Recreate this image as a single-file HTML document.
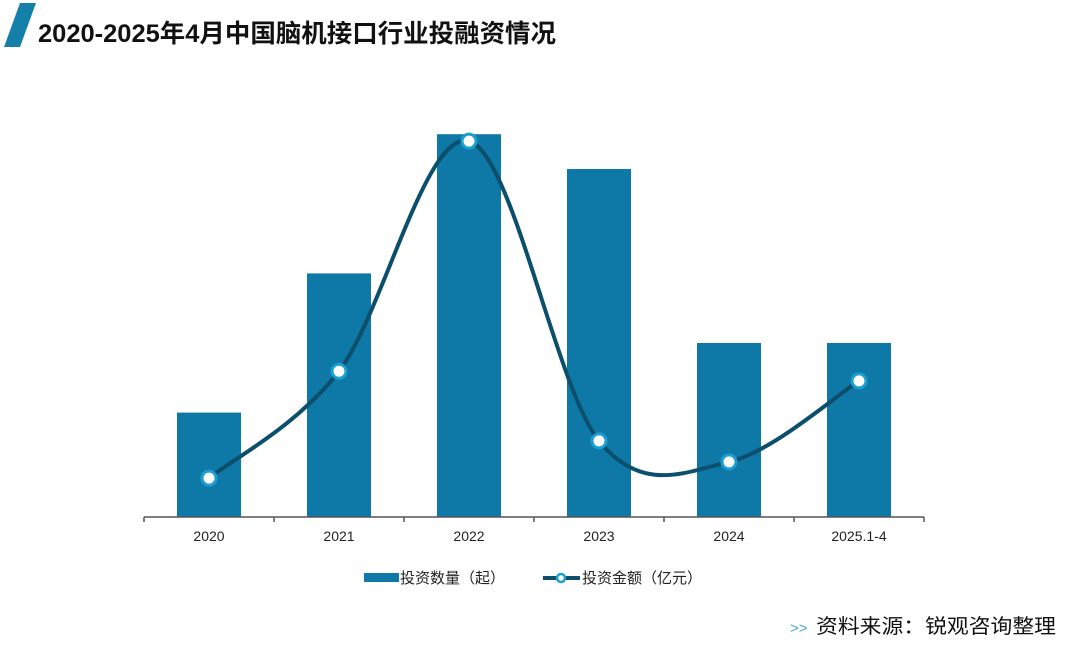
<!DOCTYPE html>
<html><head><meta charset="utf-8">
<style>
body{margin:0;background:#fff;}
#wrap{position:relative;width:1072px;height:654px;overflow:hidden;font-family:"Liberation Sans","Noto Sans CJK SC",sans-serif;}
</style></head>
<body>
<div id="wrap">
<svg id="chart" width="1072" height="654">
  <polygon points="20,3 36,3 20,47 4,47" fill="#1480a9"/>
  <text x="38" y="42" font-size="25" font-weight="bold" fill="#111" textLength="518" lengthAdjust="spacingAndGlyphs" font-family="Liberation Sans,Noto Sans CJK SC,sans-serif">2020-2025年4月中国脑机接口行业投融资情况</text>
  <g id="plot"></g>
  <g>
    <rect x="364" y="573" width="35" height="9" fill="#0e79a6"/>
    <text x="400" y="583" font-size="15" fill="#222">投资数量（起）</text>
    <line x1="543" y1="578" x2="580" y2="578" stroke="#0b4f6c" stroke-width="4"/>
    <circle cx="561" cy="578" r="4" fill="#fff" stroke="#1a9fd0" stroke-width="2.5"/>
    <text x="582" y="583" font-size="15" fill="#222">投资金额（亿元）</text>
  </g>
  <text x="790" y="633" font-size="15" fill="#4aa3d0">&gt;&gt;</text>
  <text x="816" y="633" font-size="20" fill="#111" textLength="240" lengthAdjust="spacingAndGlyphs">资料来源：锐观咨询整理</text>
</svg>
</div>
<script>
const categories=["2020","2021","2022","2023","2024","2025.1-4"];
const dealCounts=[6,14,22,20,10,10];
const amounts=[12,45,116,23.5,17,42];
const svg=document.getElementById('plot');
const NS='http://www.w3.org/2000/svg';
const x0=144,step=130,baseY=517;
const barScale=17.4, lineScale=3.24;
function xPos(i){return x0+step*i+step/2;}
function yBar(v){return baseY-v*barScale;}
function yLine(v){return baseY-v*lineScale;}
function mk(tag,attrs){const e=document.createElementNS(NS,tag);for(const k in attrs)e.setAttribute(k,attrs[k]);svg.appendChild(e);return e;}
dealCounts.forEach((v,i)=>{
  const r=mk('rect',{x:xPos(i)-32,y:yBar(v),width:64,height:baseY-yBar(v),fill:'#0e79a6'});
  
  
});
const ax=mk('line',{x1:x0,y1:baseY,x2:x0+step*6,y2:baseY,stroke:'#555','stroke-width':1.5});


for(let i=0;i<=6;i++){
  const t=mk('line',{x1:x0+step*i,y1:baseY,x2:x0+step*i,y2:baseY+5,stroke:'#555','stroke-width':1.5});
  
  
}
categories.forEach((c,i)=>{
  const t=mk('text',{x:xPos(i),y:541,'font-size':14,'text-anchor':'middle',fill:'#222'});
  t.textContent=c;
  
  
});
const pts=amounts.map((v,i)=>[xPos(i),yLine(v)]);
let d='M'+pts[0][0]+','+pts[0][1];
for(let i=0;i<pts.length-1;i++){
  const p0=pts[Math.max(0,i-1)],p1=pts[i],p2=pts[i+1],p3=pts[Math.min(pts.length-1,i+2)];
  const c1=[p1[0]+(p2[0]-p0[0])/6,p1[1]+(p2[1]-p0[1])/6];
  const c2=[p2[0]-(p3[0]-p1[0])/6,p2[1]-(p3[1]-p1[1])/6];
  d+=' C'+c1+' '+c2+' '+p2;
}
const path=mk('path',{d:d,fill:'none',stroke:'#0b4f6c','stroke-width':4});


pts.forEach((p,i)=>{
  const c=mk('circle',{cx:p[0],cy:p[1],r:7,fill:'#fff',stroke:'#1a9fd0','stroke-width':3});
  
  
});
</script>
</body></html>
